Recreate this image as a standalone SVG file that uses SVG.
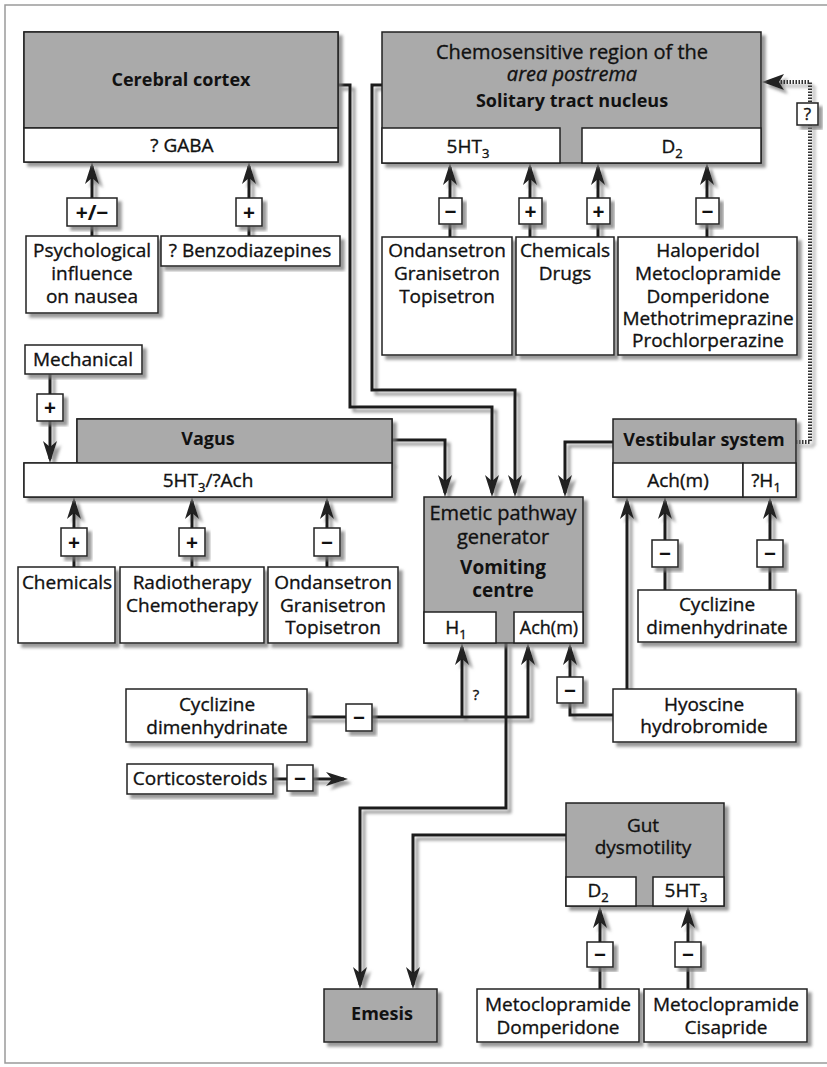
<svg xmlns="http://www.w3.org/2000/svg" width="827" height="1067" viewBox="0 0 827 1067">
<defs>
<filter id="sh" x="-20%" y="-20%" width="140%" height="140%">
<feDropShadow dx="4" dy="4" stdDeviation="1.5" flood-color="#777" flood-opacity="0.75"/>
</filter>
<marker id="ah" viewBox="0 0 22 16" markerWidth="22" markerHeight="16" refX="18" refY="8" orient="auto" markerUnits="userSpaceOnUse">
<path d="M0,1 L22,8 L0,15 L6,8 Z" fill="#222"/>
</marker>
<style>
.bx{fill:#fff;stroke:#222;stroke-width:1.5}
.gr{fill:#aaa;stroke:#222;stroke-width:1.5}
.t{font-family:"Open Sans","DejaVu Sans",sans-serif;font-size:19px;fill:#111;stroke:#111;stroke-width:0.35;text-anchor:middle}
.b{font-family:"Open Sans","DejaVu Sans",sans-serif;font-size:18px;font-weight:bold;fill:#111;text-anchor:middle}
.i{font-style:italic}
.s{font-family:"Open Sans","DejaVu Sans",sans-serif;font-size:21px;font-weight:bold;fill:#111;text-anchor:middle}
.sub{font-size:13px}
.ln{fill:none;stroke:#1a1a1a;stroke-width:3}
.arr{fill:none;stroke:#1a1a1a;stroke-width:3;marker-end:url(#ah)}
.dot{fill:none;stroke:#333;stroke-width:4;stroke-dasharray:1.5 1.5}
</style>
</defs>
<rect x="5" y="5" width="840" height="1058" fill="#fff" stroke="#9a9a9a" stroke-width="1.5"/>

<g id="connectors" filter="url(#sh)">
<path class="arr" d="M338,85 L350,85 L350,407 L492,407 L492,493"/>
<path class="arr" d="M382,85 L372,85 L372,390 L515,390 L515,493"/>
<path class="arr" d="M392,440 L445,440 L445,493"/>
<path class="arr" d="M613,442 L565,442 L565,493"/>
<path class="arr" d="M506,643 L506,808 L360,808 L360,985"/>
<path class="arr" d="M566,835 L413,835 L413,985"/>
<path class="arr" d="M92,236 L92,166"/>
<path class="arr" d="M249,236 L249,166"/>
<path class="arr" d="M450,237 L450,167"/>
<path class="arr" d="M530,237 L530,167"/>
<path class="arr" d="M598,237 L598,167"/>
<path class="arr" d="M707,237 L707,167"/>
<path class="arr" d="M50,374 L50,459"/>
<path class="arr" d="M74,567 L74,501"/>
<path class="arr" d="M192,567 L192,501"/>
<path class="arr" d="M327,567 L327,501"/>
<path class="arr" d="M665,590 L665,501"/>
<path class="arr" d="M770,590 L770,501"/>
<path class="arr" d="M627,689 L627,501"/>
<path class="arr" d="M613,715 L570,715 L570,647"/>
<path class="arr" d="M307,717 L528,717 L528,647"/>
<path class="arr" d="M462,717 L462,647"/>
<path class="arr" d="M273,779 L344,779"/>
<path class="arr" d="M600,989 L600,910"/>
<path class="arr" d="M688,989 L688,910"/>
<path class="dot" d="M796,442 L810,442 L810,82 L778,82"/>
<path d="M762,82 L784,74 L779,82 L784,90 Z" fill="#222"/>
</g>

<g id="cerebral-cortex">
<rect class="bx" x="24" y="32" width="314" height="130" filter="url(#sh)"/>
<rect class="gr" x="24" y="32" width="314" height="96"/>
<rect class="bx" x="24" y="128" width="314" height="34"/>
<text class="b" x="181" y="86">Cerebral cortex</text>
<text class="t" x="182" y="152">? GABA</text>
</g>

<g id="chemosensitive">
<rect class="gr" x="382" y="32" width="379" height="131" filter="url(#sh)"/>
<rect class="bx" x="382" y="128" width="178" height="35"/>
<rect class="bx" x="582" y="128" width="179" height="35"/>
<text class="t" x="572" y="59" style="font-size:20px">Chemosensitive region of the</text>
<text class="t i" x="572" y="81" style="font-size:20px">area postrema</text>
<text class="b" x="572" y="107">Solitary tract nucleus</text>
<text class="t" x="468" y="153">5HT<tspan class="sub" dy="5">3</tspan></text>
<text class="t" x="672" y="153">D<tspan class="sub" dy="5">2</tspan></text>
</g>

<g id="psychological">
<rect class="bx" x="26" y="236" width="132" height="77" filter="url(#sh)"/>
<text class="t" x="92" y="257">Psychological</text>
<text class="t" x="92" y="280">influence</text>
<text class="t" x="92" y="303">on nausea</text>
</g>
<g id="benzodiazepines">
<rect class="bx" x="161" y="236" width="179" height="30" filter="url(#sh)"/>
<text class="t" x="250" y="257">? Benzodiazepines</text>
</g>

<g id="ondansetron-1">
<rect class="bx" x="382" y="237" width="130" height="118" filter="url(#sh)"/>
<text class="t" x="447" y="257">Ondansetron</text>
<text class="t" x="447" y="280">Granisetron</text>
<text class="t" x="447" y="303">Topisetron</text>
</g>
<g id="chemicals-drugs">
<rect class="bx" x="516" y="237" width="98" height="118" filter="url(#sh)"/>
<text class="t" x="565" y="257">Chemicals</text>
<text class="t" x="565" y="280">Drugs</text>
</g>
<g id="haloperidol">
<rect class="bx" x="618" y="237" width="179" height="118" filter="url(#sh)"/>
<text class="t" x="708" y="257">Haloperidol</text>
<text class="t" x="708" y="280">Metoclopramide</text>
<text class="t" x="708" y="303">Domperidone</text>
<text class="t" x="708" y="325">Methotrimeprazine</text>
<text class="t" x="708" y="347">Prochlorperazine</text>
</g>

<g id="mechanical">
<rect class="bx" x="25" y="345" width="117" height="29" filter="url(#sh)"/>
<text class="t" x="83" y="366">Mechanical</text>
</g>

<g id="vagus">
<rect class="gr" x="77" y="419" width="315" height="44" filter="url(#sh)"/>
<rect class="bx" x="24" y="463" width="368" height="34" filter="url(#sh)"/>
<rect class="gr" x="77" y="419" width="315" height="44"/>
<rect class="bx" x="24" y="463" width="368" height="34"/>
<text class="b" x="208" y="445">Vagus</text>
<text class="t" x="208" y="487">5HT<tspan class="sub" dy="5">3</tspan><tspan dy="-5">/?Ach</tspan></text>
</g>

<g id="chemicals-2">
<rect class="bx" x="18" y="567" width="97" height="76" filter="url(#sh)"/>
<text class="t" x="67" y="589">Chemicals</text>
</g>
<g id="radiotherapy">
<rect class="bx" x="120" y="567" width="144" height="76" filter="url(#sh)"/>
<text class="t" x="192" y="589">Radiotherapy</text>
<text class="t" x="192" y="612">Chemotherapy</text>
</g>
<g id="ondansetron-2">
<rect class="bx" x="268" y="567" width="130" height="76" filter="url(#sh)"/>
<text class="t" x="333" y="589">Ondansetron</text>
<text class="t" x="333" y="612">Granisetron</text>
<text class="t" x="333" y="634">Topisetron</text>
</g>

<g id="emetic-centre">
<rect class="gr" x="424" y="497" width="159" height="146" filter="url(#sh)"/>
<rect class="bx" x="424" y="612" width="72" height="31"/>
<rect class="bx" x="514" y="612" width="69" height="31"/>
<text class="t" x="503" y="520" style="font-size:20px">Emetic pathway</text>
<text class="t" x="503" y="544" style="font-size:20px">generator</text>
<text class="b" x="503" y="574" style="font-size:19px">Vomiting</text>
<text class="b" x="503" y="597" style="font-size:19px">centre</text>
<text class="t" x="456" y="634">H<tspan class="sub" dy="5">1</tspan></text>
<text class="t" x="549" y="634" style="font-size:18px">Ach(m)</text>
</g>

<g id="vestibular">
<rect class="gr" x="613" y="419" width="183" height="78" filter="url(#sh)"/>
<rect class="bx" x="613" y="463" width="130" height="34"/>
<rect class="bx" x="743" y="463" width="53" height="34"/>
<text class="b" x="704" y="446">Vestibular system</text>
<text class="t" x="678" y="487">Ach(m)</text>
<text class="t" x="766" y="487">?H<tspan class="sub" dy="5">1</tspan></text>
</g>

<g id="cyclizine-right">
<rect class="bx" x="638" y="590" width="158" height="52" filter="url(#sh)"/>
<text class="t" x="717" y="611">Cyclizine</text>
<text class="t" x="717" y="634">dimenhydrinate</text>
</g>

<g id="hyoscine">
<rect class="bx" x="613" y="689" width="183" height="53" filter="url(#sh)"/>
<text class="t" x="704" y="711">Hyoscine</text>
<text class="t" x="704" y="733">hydrobromide</text>
</g>

<g id="cyclizine-left">
<rect class="bx" x="126" y="689" width="181" height="53" filter="url(#sh)"/>
<text class="t" x="217" y="711">Cyclizine</text>
<text class="t" x="217" y="734">dimenhydrinate</text>
</g>

<g id="corticosteroids">
<rect class="bx" x="127" y="764" width="146" height="30" filter="url(#sh)"/>
<text class="t" x="200" y="785">Corticosteroids</text>
</g>

<g id="gut">
<rect class="gr" x="566" y="803" width="158" height="103" filter="url(#sh)"/>
<rect class="bx" x="566" y="877" width="70" height="29"/>
<rect class="bx" x="653" y="877" width="71" height="29"/>
<text class="t" x="643" y="832">Gut</text>
<text class="t" x="643" y="854">dysmotility</text>
<text class="t" x="598" y="897">D<tspan class="sub" dy="5">2</tspan></text>
<text class="t" x="686" y="897">5HT<tspan class="sub" dy="5">3</tspan></text>
</g>

<g id="emesis">
<rect class="gr" x="324" y="989" width="113" height="53" filter="url(#sh)"/>
<text class="b" x="382" y="1020">Emesis</text>
</g>

<g id="metoclopramide-domperidone">
<rect class="bx" x="477" y="989" width="162" height="53" filter="url(#sh)"/>
<text class="t" x="558" y="1011">Metoclopramide</text>
<text class="t" x="558" y="1034">Domperidone</text>
</g>
<g id="metoclopramide-cisapride">
<rect class="bx" x="644" y="989" width="163" height="53" filter="url(#sh)"/>
<text class="t" x="726" y="1011">Metoclopramide</text>
<text class="t" x="726" y="1034">Cisapride</text>
</g>

<g id="signs">
<rect class="bx" x="67" y="198" width="50" height="28" filter="url(#sh)"/><text class="s" x="92" y="220">+/−</text>
<rect class="bx" x="236" y="198" width="26" height="28" filter="url(#sh)"/><text class="s" x="249" y="220">+</text>
<rect class="bx" x="439" y="198" width="23" height="26" filter="url(#sh)"/><text class="s" x="450.5" y="219">−</text>
<rect class="bx" x="519" y="198" width="23" height="26" filter="url(#sh)"/><text class="s" x="530.5" y="219">+</text>
<rect class="bx" x="587" y="198" width="23" height="26" filter="url(#sh)"/><text class="s" x="598.5" y="219">+</text>
<rect class="bx" x="696" y="198" width="23" height="26" filter="url(#sh)"/><text class="s" x="707.5" y="219">−</text>
<rect class="bx" x="37" y="394" width="26" height="27" filter="url(#sh)"/><text class="s" x="50" y="415">+</text>
<rect class="bx" x="61" y="528" width="26" height="28" filter="url(#sh)"/><text class="s" x="74" y="550">+</text>
<rect class="bx" x="179" y="528" width="26" height="28" filter="url(#sh)"/><text class="s" x="192" y="550">+</text>
<rect class="bx" x="314" y="528" width="26" height="28" filter="url(#sh)"/><text class="s" x="327" y="550">−</text>
<rect class="bx" x="652" y="540" width="26" height="27" filter="url(#sh)"/><text class="s" x="665" y="561">−</text>
<rect class="bx" x="757" y="540" width="26" height="27" filter="url(#sh)"/><text class="s" x="770" y="561">−</text>
<rect class="bx" x="557" y="677" width="26" height="26" filter="url(#sh)"/><text class="s" x="570" y="698">−</text>
<rect class="bx" x="346" y="704" width="26" height="27" filter="url(#sh)"/><text class="s" x="359" y="725">−</text>
<rect class="bx" x="287" y="765" width="26" height="26" filter="url(#sh)"/><text class="s" x="300" y="786">−</text>
<rect class="bx" x="587" y="942" width="26" height="25" filter="url(#sh)"/><text class="s" x="600" y="962">−</text>
<rect class="bx" x="675" y="942" width="26" height="25" filter="url(#sh)"/><text class="s" x="688" y="962">−</text>
<rect class="bx" x="797" y="103" width="21" height="22" filter="url(#sh)"/><text class="t" x="807.5" y="120" style="font-size:17px">?</text>
<text class="t" x="476" y="700" style="font-size:15px">?</text>
</g>
</svg>
